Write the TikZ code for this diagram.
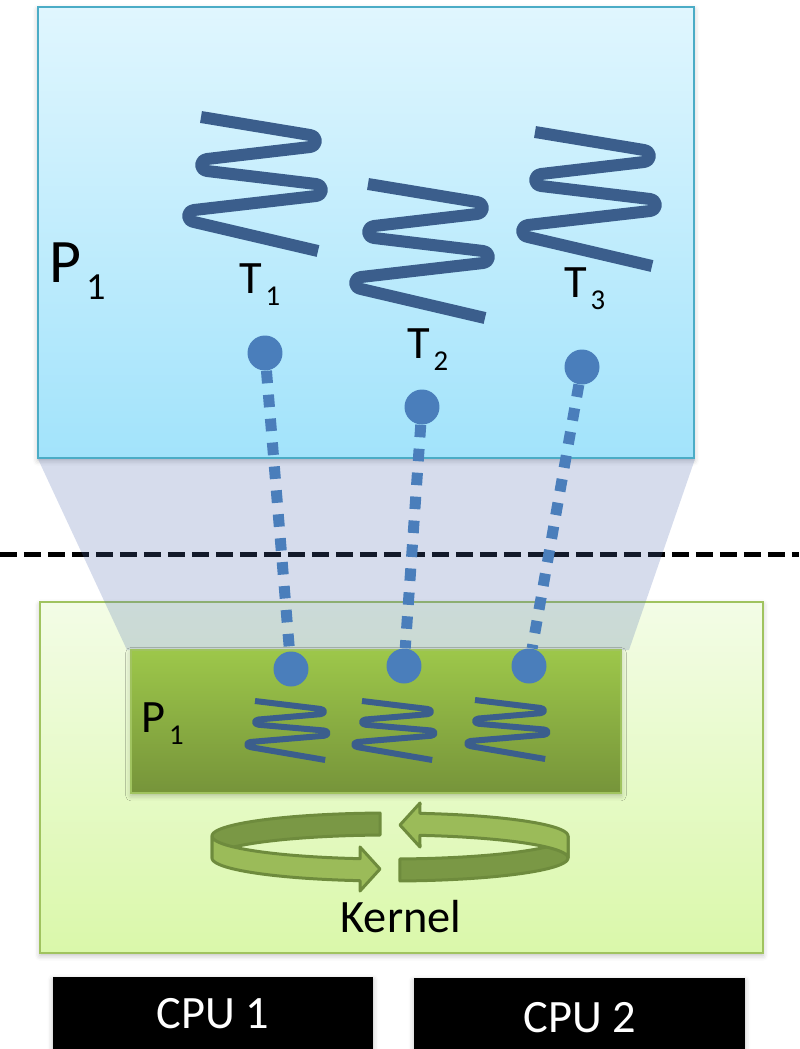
\documentclass[tikz,border=0pt]{standalone}
\usepackage{fontspec}
\setmainfont{Carlito}
\usepackage{graphicx}
\definecolor{procline}{RGB}{75,172,198}
\definecolor{proctop}{RGB}{224,246,254}
\definecolor{procbot}{RGB}{162,227,251}
\definecolor{kerntop}{RGB}{243,252,230}
\definecolor{kernbot}{RGB}{218,248,170}
\definecolor{kernline}{RGB}{160,195,95}
\definecolor{ptabtop}{RGB}{157,199,74}
\definecolor{ptabbot}{RGB}{118,148,58}
\definecolor{mapfill}{RGB}{83,110,176}
\definecolor{dotblue}{RGB}{74,126,187}
\definecolor{threadblue}{RGB}{59,94,140}
\definecolor{turndark}{RGB}{122,152,69}
\definecolor{turnlight}{RGB}{155,187,89}
\definecolor{turnline}{RGB}{110,139,61}
\usetikzlibrary{shadows.blur}
\newcommand{\thsub}[1]{\kern0.08em\raisebox{-0.28em}{\scalebox{0.62}{#1}}}

\tikzset{
  thread/.pic={
    \draw (0,0) -- (109,18) .. controls +(8,1.4) and +(8,-1.4) .. (109,30)
      -- (6,42) .. controls +(-8,1.4) and +(-8,-1.4) .. (6,54)
      -- (115,67) .. controls +(8,1.4) and +(8,-1.4) .. (115,79)
      -- (-7,93) .. controls +(-8,1.4) and +(-8,-1.4) .. (-7,105)
      -- (117,134);
  },
  turnarrow/.pic={
    \filldraw[fill=turndark]
      plot[domain=266.8:180, samples=30] ({178*cos(\x)},{-11+23*sin(\x)})
      -- plot[domain=180:266.8, samples=30] ({178*cos(\x)},{11+23*sin(\x)}) -- cycle;
    \filldraw[fill=turnlight]
      plot[domain=180:99.7, samples=30] ({178*cos(\x)},{-11+23*sin(\x)})
      -- (-30,0) -- (-10,22) -- (-30,44)
      -- plot[domain=99.7:180, samples=30] ({178*cos(\x)},{11+23*sin(\x)}) -- cycle;
  }
}

\begin{document}
\begin{tikzpicture}[x=0.02cm, y=-0.02cm,
  txt/.style={font=\fontsize{26.4}{30}\selectfont, inner sep=0pt},
  softshadow/.style={blur shadow={shadow xshift=0pt, shadow yshift=-1.5pt, shadow opacity=25, shadow blur radius=3pt}},
  dot/.style={circle, fill=dotblue, inner sep=0pt, minimum size=0.7cm},
  link/.style={dotblue, line width=0.22cm, dash pattern=on 0.25cm off 0.23cm},
  bigthread/.style={color=threadblue, line width=0.24cm, line join=round},
  smallthread/.style={color=threadblue, line width=0.12cm, line join=round, xscale=0.6, yscale=0.44},
  turn/.style={draw=turnline, line width=0.06cm, line join=round}
]
  \useasboundingbox (0,0) rectangle (799,1049);

  % user space process
  \path[softshadow, top color=proctop, bottom color=procbot, draw=procline, line width=0.04cm]
    (38,7) rectangle (694,458);
  % kernel space
  \path[softshadow, top color=kerntop, bottom color=kernbot, draw=kernline, line width=0.03cm]
    (40,602) rectangle (763,953);
  \draw[line width=0.1cm, dash pattern=on 0.34cm off 0.14cm] (0,554) -- (799,554);
  \fill[mapfill, opacity=0.24] (38,459) -- (695,459) -- (629,650) -- (127,650) -- cycle;
  \path[softshadow, top color=ptabtop, bottom color=ptabbot, draw=kernline, line width=0.03cm]
    (131,650) rectangle (621,793);

  % CPUs
  \fill[softshadow, black] (53,977) rectangle (373,1052);
  \fill[softshadow, black] (414,978) rectangle (745,1052);

  % threads
  \pic[bigthread] at (201,117) {thread};
  \pic[bigthread] at (368,184) {thread};
  \pic[bigthread] at (535,132) {thread};
  \pic[smallthread] at (255,701) {thread};
  \pic[smallthread] at (362,701) {thread};
  \pic[smallthread] at (475,700) {thread};

  \node[dot] (t1) at (265,353) {};
  \node[dot] (t2) at (422,407) {};
  \node[dot] (t3) at (582,367) {};
  \node[dot] (k1) at (291,669) {};
  \node[dot] (k2) at (404,666) {};
  \node[dot] (k3) at (529,666) {};
  \draw[link] (t1) -- (k1);
  \draw[link] (t2) -- (k2);
  \draw[link] (t3) -- (k3);

  % scheduler
  \pic[turn] at (390,847) {turnarrow};
  \pic[turn, rotate=180] at (390,847) {turnarrow};

  \node[txt, font=\fontsize{35.2}{40}\selectfont, anchor=base west] (puser) at (49,282) {P\thsub{1}};
  \node[txt, anchor=base west] (lt1) at (239,293) {T\thsub{1}};
  \node[txt, anchor=base west] (lt2) at (407,358) {T\thsub{2}};
  \node[txt, anchor=base west] (lt3) at (564,297) {T\thsub{3}};
  \node[txt, anchor=base west] (pkern) at (141,732) {P\thsub{1}};
  \node[txt, anchor=base] (kern) at (401,932) {Kernel};
  \node[txt, anchor=base, text=white] (cpu1) at (213,1028) {CPU 1};
  \node[txt, anchor=base, text=white] (cpu2) at (580,1032) {CPU 2};
\end{tikzpicture}
\end{document}
